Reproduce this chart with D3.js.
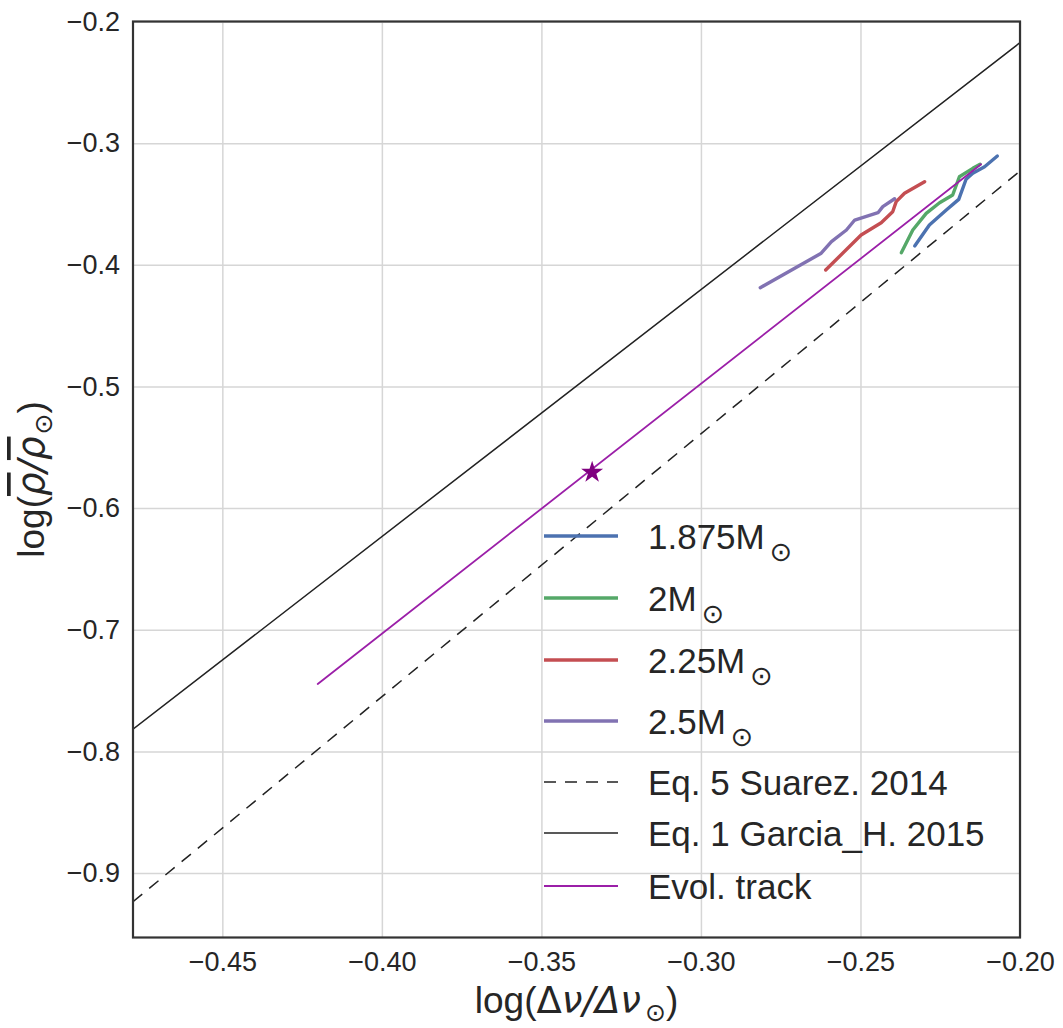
<!DOCTYPE html>
<html lang="en">
<head>
<meta charset="utf-8">
<title>Density vs large separation</title>
<script src="https://d3js.org/d3.v7.min.js"></script>
<style>
body { margin: 0; background: #fff; }
text { font-family: "Liberation Sans", Arial, sans-serif; fill: #262626; }
.math { font-family: "DejaVu Sans", sans-serif; }
</style>
</head>
<body>
<script>
// tick values
var xTicks = [-0.45, -0.40, -0.35, -0.30, -0.25, -0.20];
var yTicks = [-0.9, -0.8, -0.7, -0.6, -0.5, -0.4, -0.3, -0.2];

// evolutionary tracks
var track1875x = [-0.2330, -0.2284, -0.2231, -0.2192, -0.2169, -0.2148, -0.2111, -0.2071];
var track1875y = [-0.3845, -0.3673, -0.3550, -0.3462, -0.3297, -0.3248, -0.3194, -0.3106];
var track2x = [-0.2372, -0.2336, -0.2294, -0.2252, -0.2211, -0.2190, -0.2148, -0.2125];
var track2y = [-0.3901, -0.3714, -0.3577, -0.3490, -0.3426, -0.3276, -0.3207, -0.3174];
var track225x = [-0.2609, -0.2498, -0.2435, -0.2399, -0.2388, -0.2362, -0.2299];
var track225y = [-0.4043, -0.3755, -0.3654, -0.3564, -0.3481, -0.3412, -0.3317];
var track25x = [-0.2814, -0.2623, -0.2591, -0.2544, -0.2518, -0.2445, -0.2430, -0.2393];
var track25y = [-0.4188, -0.3905, -0.3810, -0.3714, -0.3632, -0.3572, -0.3522, -0.3457];

// relations (end points)
var suarezX = [-0.478, -0.20];
var suarezY = [-0.9236, -0.3229];
var garciaX = [-0.478, -0.20];
var garciaY = [-0.7818, -0.2174];
var evolX = [-0.4201, -0.2122];
var evolY = [-0.7446, -0.3174];
var starX = [-0.3341];
var starY = [-0.5706];

var W = 1063, H = 1028;
var mLeft = 133, mRight = 1020, mTop = 21.5, mBottom = 937.5;

var svg = d3.select("body").append("svg")
  .attr("width", W)
  .attr("height", H);

var x = d3.scaleLinear().domain([-0.478, -0.20]).range([mLeft, mRight]);
var y = d3.scaleLinear().domain([-0.953, -0.2]).range([mBottom, mTop]);

// grid
svg.append("g")
  .attr("transform", "translate(0," + mBottom + ")")
  .call(d3.axisBottom(x).tickValues(xTicks).tickSize(-(mBottom - mTop)).tickFormat(""))
  .call(function(g) {
    g.select(".domain").remove();
    g.selectAll("line").attr("stroke", "#d6d6d6").attr("stroke-width", 1.5);
  });
svg.append("g")
  .attr("transform", "translate(" + mLeft + ",0)")
  .call(d3.axisLeft(y).tickValues(yTicks).tickSize(-(mRight - mLeft)).tickFormat(""))
  .call(function(g) {
    g.select(".domain").remove();
    g.selectAll("line").attr("stroke", "#d6d6d6").attr("stroke-width", 1.5);
  });

// tick labels
svg.append("g")
  .attr("transform", "translate(0," + mBottom + ")")
  .call(d3.axisBottom(x).tickValues(xTicks).tickSize(0).tickPadding(14).tickFormat(d3.format(".2f")))
  .call(function(g) {
    g.select(".domain").remove();
    g.selectAll("text").attr("font-size", 27).attr("fill", "#262626")
      .attr("font-family", "Liberation Sans, Arial, sans-serif");
  });
svg.append("g")
  .attr("transform", "translate(" + mLeft + ",0)")
  .call(d3.axisLeft(y).tickValues(yTicks).tickSize(0).tickPadding(13).tickFormat(d3.format(".1f")))
  .call(function(g) {
    g.select(".domain").remove();
    g.selectAll("text").attr("font-size", 27).attr("fill", "#262626")
      .attr("font-family", "Liberation Sans, Arial, sans-serif");
  });

var series = [
  { name: "1.875M", xs: track1875x, ys: track1875y, color: "#4C72B0", width: 3.4, dash: null, sun: true },
  { name: "2M", xs: track2x, ys: track2y, color: "#55A868", width: 3.4, dash: null, sun: true },
  { name: "2.25M", xs: track225x, ys: track225y, color: "#C44E52", width: 3.4, dash: null, sun: true },
  { name: "2.5M", xs: track25x, ys: track25y, color: "#8172B2", width: 3.4, dash: null, sun: true },
  { name: "Eq. 5 Suarez. 2014", xs: suarezX, ys: suarezY, color: "#222", width: 1.5, dash: "12,9", sun: false },
  { name: "Eq. 1 Garcia_H. 2015", xs: garciaX, ys: garciaY, color: "#222", width: 1.5, dash: null, sun: false },
  { name: "Evol. track", xs: evolX, ys: evolY, color: "#9b1fa8", width: 1.8, dash: null, sun: false }
];

var line = d3.line()
  .x(function(d) { return x(d[0]); })
  .y(function(d) { return y(d[1]); });

svg.append("defs").append("clipPath").attr("id", "plotclip")
  .append("rect").attr("x", mLeft).attr("y", mTop)
  .attr("width", mRight - mLeft).attr("height", mBottom - mTop);

var plot = svg.append("g").attr("clip-path", "url(#plotclip)");

plot.selectAll("path.series")
  .data(series)
  .enter()
  .append("path")
  .attr("class", "series")
  .attr("d", function(s) { return line(d3.zip(s.xs, s.ys)); })
  .attr("fill", "none")
  .attr("stroke", function(s) { return s.color; })
  .attr("stroke-width", function(s) { return s.width; })
  .attr("stroke-dasharray", function(s) { return s.dash; })
  .attr("stroke-linejoin", "round")
  .attr("stroke-linecap", function(s) { return s.dash ? "butt" : "round"; });

// star
plot.selectAll("path.star")
  .data(d3.zip(starX, starY))
  .enter()
  .append("path")
  .attr("class", "star")
  .attr("transform", function(d) { return "translate(" + x(d[0]) + "," + y(d[1]) + ")"; })
  .attr("d", d3.symbol().type(d3.symbolStar).size(150))
  .attr("fill", "#800080");

// frame
svg.append("rect")
  .attr("x", mLeft).attr("y", mTop)
  .attr("width", mRight - mLeft).attr("height", mBottom - mTop)
  .attr("fill", "none").attr("stroke", "#333").attr("stroke-width", 2.2);

// legend
var legendRows = [536, 598, 660, 721, 782, 833, 886];
var leg = svg.append("g");
series.forEach(function(s, i) {
  var ly = legendRows[i];
  leg.append("line")
    .attr("x1", 544).attr("x2", 618)
    .attr("y1", ly).attr("y2", ly)
    .attr("stroke", s.color)
    .attr("stroke-width", s.width)
    .attr("stroke-dasharray", s.dash);
  var t = leg.append("text")
    .attr("x", 648).attr("y", ly + 12.5)
    .attr("font-size", 35);
  t.append("tspan").text(s.name);
  if (s.sun) {
    t.append("tspan").attr("class", "math")
      .attr("font-size", 27).attr("dx", 5).attr("dy", 12)
      .text("\u2299");
  }
});

// axis titles
var xl = svg.append("text")
  .attr("x", (mLeft + mRight) / 2).attr("y", 1013)
  .attr("text-anchor", "middle")
  .attr("font-size", 37);
xl.append("tspan").text("log(");
xl.append("tspan").attr("class", "math").text("\u0394");
xl.append("tspan").attr("class", "math").attr("font-style", "italic").text("\u03bd");
xl.append("tspan").attr("class", "math").attr("font-style", "italic").text("/\u0394");
xl.append("tspan").attr("class", "math").attr("font-style", "italic").text("\u03bd");
xl.append("tspan").attr("class", "math").attr("font-size", 25).attr("dx", 4).attr("dy", 8).text("\u2299");
xl.append("tspan").attr("dy", -8).text(")");

var yl = svg.append("text")
  .attr("transform", "translate(44," + ((mTop + mBottom) / 2) + ") rotate(-90)")
  .attr("text-anchor", "middle")
  .attr("font-size", 37);
yl.append("tspan").text("log(");
yl.append("tspan").attr("class", "math").attr("font-style", "italic")
  .style("text-decoration", "overline").text("\u03c1");
yl.append("tspan").attr("class", "math").attr("font-style", "italic").text("/");
yl.append("tspan").attr("class", "math").attr("font-style", "italic")
  .style("text-decoration", "overline").text("\u03c1");
yl.append("tspan").attr("class", "math").attr("font-size", 25).attr("dx", 2).attr("dy", 8).text("\u2299");
yl.append("tspan").attr("dy", -8).text(")");
</script>
</body>
</html>
